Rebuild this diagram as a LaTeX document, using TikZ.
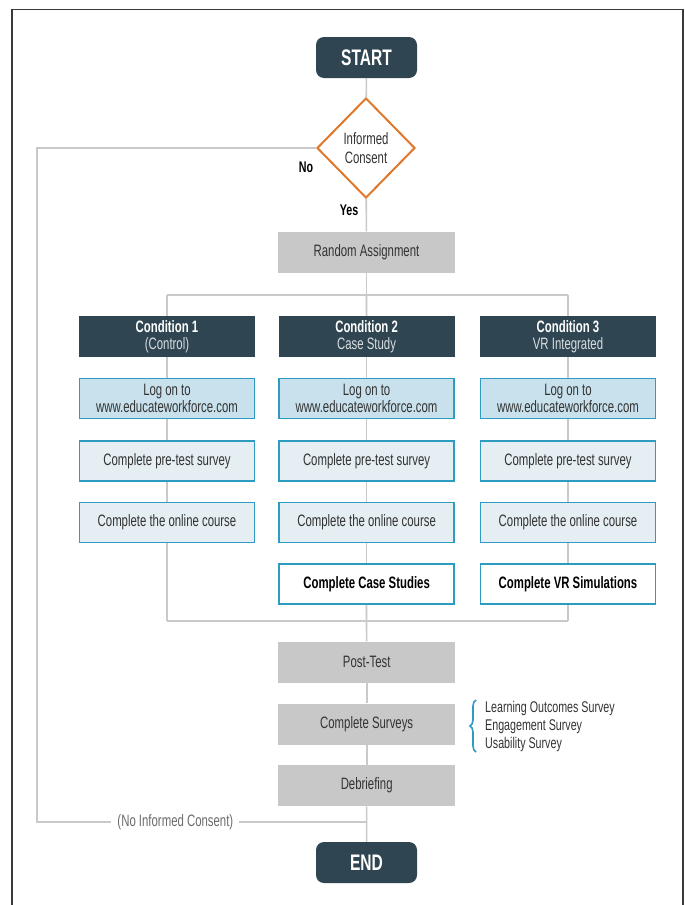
\documentclass[tikz,border=0pt]{standalone}
\usepackage{fontspec}
\setmainfont{Liberation Sans}[FakeStretch=0.69]
\usetikzlibrary{shapes.geometric,decorations.pathreplacing}
\definecolor{slate}{HTML}{2F4551}
\definecolor{linegray}{HTML}{C9C9C9}
\definecolor{boxgray}{HTML}{C8C8C8}
\definecolor{teal}{HTML}{2C9CC0}
\definecolor{logfill}{HTML}{C8E1EC}
\definecolor{stepfill}{HTML}{E4EEF3}
\definecolor{txt}{HTML}{333333}
\definecolor{orng}{HTML}{E0782C}
\definecolor{framegray}{HTML}{3A3A3A}
\definecolor{softwhite}{HTML}{DADFE2}
\newcommand{\bodyfont}{\fontsize{16.5}{16.5}\selectfont}
\begin{document}
\begin{tikzpicture}[x=1pt,y=-1pt,
  conn/.style={draw=linegray, line width=1.6pt},
  term/.style={fill=slate, rounded corners=8pt, minimum width=101pt, minimum height=41pt, inner sep=0pt, text=white, font=\fontsize{22.5}{24}\selectfont\bfseries},
  graybox/.style={fill=boxgray, minimum width=177pt, minimum height=41pt, inner sep=0pt, text=txt, font=\bodyfont},
  header/.style={fill=slate, minimum width=176pt, minimum height=41pt, inner sep=0pt, text=white, align=center, font=\bodyfont},
  logbox/.style={draw=teal, line width=1.8pt, fill=logfill, minimum width=175pt, minimum height=40pt, inner sep=0pt, text=txt, align=center, font=\bodyfont},
  stepbox/.style={logbox, fill=stepfill},
  boldbox/.style={logbox, fill=white, text=black, font=\bodyfont\bfseries},
  lbl/.style={font=\fontsize{15.5}{16}\selectfont\bfseries, text=black, inner sep=0pt}
]
\useasboundingbox (0,0) rectangle (685,905);
\fill[white] (0,0) rectangle (685,905);
\draw[framegray, line width=1.4pt] (12,915) -- (12,9.5) -- (683,9.5) -- (683,915);

% terminals and decision
\node[term] (start) at (366.5,57.5) {START};
\node[diamond, draw=orng, line width=2pt, fill=white, minimum width=98pt, minimum height=100pt, inner sep=0pt, align=center, text=txt, font=\fontsize{16.5}{19}\selectfont] (dia) at (366,148) {Informed\\Consent};
\node[graybox] (rand) at (366.5,252) {Random Assignment};

% conditions
\foreach \i/\x/\a/\b in {1/167/Condition 1/(Control), 2/366.6/Condition 2/Case Study, 3/568/Condition 3/VR Integrated}{
  \node[header] (c\i) at (\x,336.5) {\textbf{\a}\\\textcolor{softwhite}{\b}};
  \node[logbox] (l\i) at (\x,398.5) {Log on to\\www.educateworkforce.com};
  \node[stepbox] (p\i) at (\x,461) {Complete pre-test survey};
  \node[stepbox] (o\i) at (\x,522.5) {Complete the online course};
}
\node[boldbox] (s2) at (366.6,584) {Complete Case Studies};
\node[boldbox] (s3) at (568,584) {Complete VR Simulations};

\coordinate (splitL) at (167,295);
\coordinate (splitM) at (366.5,295);
\coordinate (splitR) at (568,295);
\coordinate (joinL) at (167,621);
\coordinate (joinM) at (366.5,621);
\coordinate (joinR) at (568,621);

\node[graybox] (post) at (366.7,662) {Post-Test};
\node[graybox] (surv) at (366.7,724) {Complete Surveys};
\node[graybox] (deb) at (366.7,785.7) {Debriefing};
\node[term] (end) at (366.5,862.5) {END};

\coordinate (noTop) at (37,148);
\coordinate (noBot) at (37,822);
\coordinate (noEnd) at (366.5,822);

% connectors
\draw[conn] (start) -- (dia);
\draw[conn] (dia) -- (rand);
\draw[conn] (rand) -- (splitM);
\draw[conn] (splitL) -- (splitR);
\draw[conn] (joinL) -- (joinR);
\foreach \i in {1,2,3}{
  \draw[conn] (c\i) -- (l\i);
  \draw[conn] (l\i) -- (p\i);
  \draw[conn] (p\i) -- (o\i);
}
\draw[conn] (splitL) -- (c1);
\draw[conn] (splitM) -- (c2);
\draw[conn] (splitR) -- (c3);
\draw[conn] (o1) -- (joinL);
\draw[conn] (o2) -- (s2);
\draw[conn] (o3) -- (s3);
\draw[conn] (s2) -- (joinM);
\draw[conn] (s3) -- (joinR);
\draw[conn] (joinM) -- (post);
\draw[conn] (post) -- (surv);
\draw[conn] (surv) -- (deb);
\draw[conn] (deb) -- (end);
\draw[conn] (dia.west) -- (noTop) -- (noBot) -- (noEnd)
  node[pos=0.42, fill=white, inner xsep=6pt, inner ysep=2pt, text=gray!85!black, font=\bodyfont] (nolbl) {(No Informed Consent)};

\node[lbl] (no) at (306,167) {No};
\node[lbl] (yes) at (349,210) {Yes};

% surveys brace
\draw[teal, line width=1.6pt, decorate, decoration={brace, amplitude=6pt, aspect=0.5}] (476,752) -- (476,700);
\node[anchor=west, align=left, text=txt, inner sep=0pt, font=\fontsize{15.5}{18}\selectfont] (slist) at (485,726.5) {Learning Outcomes Survey\\Engagement Survey\\Usability Survey};
\end{tikzpicture}
\end{document}
